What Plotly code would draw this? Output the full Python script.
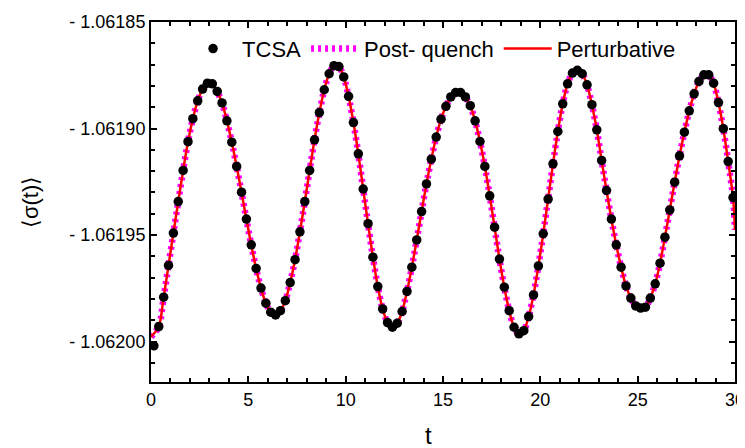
import plotly.graph_objects as go

# time grid of the TCSA samples (evenly spaced)
t_tcsa = [round(0.15 + 0.25 * k, 2) for k in range(120)]

tcsa = [
    -1.0620020, -1.0619930, -1.0619792, -1.0619643, -1.0619491, -1.0619343, -1.0619197, -1.0619062,
    -1.0618954, -1.0618870, -1.0618815, -1.0618787, -1.0618790, -1.0618826, -1.0618880, -1.0618964,
    -1.0619064, -1.0619178, -1.0619299, -1.0619425, -1.0619546, -1.0619657, -1.0619749, -1.0619820,
    -1.0619862, -1.0619875, -1.0619855, -1.0619808, -1.0619723, -1.0619616, -1.0619485, -1.0619343,
    -1.0619197, -1.0619053, -1.0618925, -1.0618818, -1.0618743, -1.0618705, -1.0618709, -1.0618758,
    -1.0618849, -1.0618972, -1.0619119, -1.0619284, -1.0619447, -1.0619604, -1.0619742, -1.0619847,
    -1.0619911, -1.0619933, -1.0619914, -1.0619859, -1.0619765, -1.0619651, -1.0619523, -1.0619390,
    -1.0619260, -1.0619144, -1.0619040, -1.0618956, -1.0618896, -1.0618852, -1.0618831, -1.0618831,
    -1.0618852, -1.0618893, -1.0618964, -1.0619061, -1.0619178, -1.0619316, -1.0619463, -1.0619613,
    -1.0619745, -1.0619855, -1.0619933, -1.0619964, -1.0619949, -1.0619883, -1.0619781, -1.0619645,
    -1.0619494, -1.0619331, -1.0619166, -1.0619014, -1.0618884, -1.0618790, -1.0618740, -1.0618727,
    -1.0618743, -1.0618795, -1.0618888, -1.0619006, -1.0619150, -1.0619291, -1.0619425, -1.0619546,
    -1.0619651, -1.0619739, -1.0619796, -1.0619833, -1.0619843, -1.0619839, -1.0619796, -1.0619729,
    -1.0619632, -1.0619510, -1.0619382, -1.0619252, -1.0619128, -1.0619017, -1.0618917, -1.0618837,
    -1.0618779, -1.0618748, -1.0618748, -1.0618787, -1.0618878, -1.0619001, -1.0619155, -1.0619324,
]

# analytic curves (post-quench / perturbative) — nearly identical to TCSA
line_start = -1.0619978
line_end = -1.0619476
curve_t = [0.0] + t_tcsa[1:] + [30.0]
post_quench = [line_start] + tcsa[1:] + [line_end]
perturbative = [line_start] + tcsa[1:] + [line_end]

y_ticks = [-1.06185, -1.06190, -1.06195, -1.06200]
y_ticktext = ["- 1.06185", "- 1.06190", "- 1.06195", "- 1.06200"]

FONT = "Liberation Sans, Arial, sans-serif"

fig = go.Figure()
fig.add_trace(go.Scatter(
    x=curve_t, y=post_quench, mode="lines", name="Post- quench",
    line=dict(color="#FF00FF", width=6.5, dash="3px,4px", shape="spline", smoothing=0.8),
    legendrank=2,
))
fig.add_trace(go.Scatter(
    x=curve_t, y=perturbative, mode="lines", name="Perturbative",
    line=dict(color="#FF0000", width=2.5, shape="spline", smoothing=0.8),
    legendrank=3,
))
fig.add_trace(go.Scatter(
    x=t_tcsa, y=tcsa, mode="markers", name="TCSA",
    marker=dict(color="black", size=9.5),
    legendrank=1,
))

axis_common = dict(
    showgrid=False, zeroline=False, showline=True, linecolor="black", linewidth=2,
    mirror="ticks", ticks="inside", ticklen=6, tickwidth=1.5, tickcolor="black",
    tickfont=dict(family=FONT, size=18, color="black"), automargin=False,
    ticklabeloverflow="allow",
)

fig.update_xaxes(
    range=[0, 30], tickvals=[0, 5, 10, 15, 20, 25, 30],
    minor=dict(dtick=1, ticks="inside", ticklen=4, tickwidth=1.5, tickcolor="black"),
    **axis_common,
)
fig.update_yaxes(
    range=[-1.062019, -1.06185], tickvals=y_ticks, ticktext=y_ticktext,
    minor=dict(dtick=1e-5, tick0=-1.06185, ticks="inside", ticklen=4, tickwidth=1.5, tickcolor="black"),
    **axis_common,
)

# page body has an 8px margin, so the figure is sized/placed to compensate
fig.update_layout(
    width=737, height=440,
    margin=dict(l=143, r=10, t=14, b=66, autoexpand=False),
    plot_bgcolor="white", paper_bgcolor="white",
    font=dict(family=FONT, color="black"),
    showlegend=True,
    legend=dict(
        orientation="h", x=0.0566, y=0.9256, xanchor="left", yanchor="middle",
        bgcolor="rgba(0,0,0,0)", font=dict(family=FONT, size=22, color="black"),
        itemwidth=48,
    ),
    annotations=[
        dict(text="⟨σ(t)⟩", xref="paper", yref="paper", x=-0.207, y=0.5,
             textangle=-90, showarrow=False, xanchor="center", yanchor="middle",
             font=dict(family=FONT, size=22, color="black")),
        dict(text="t", xref="paper", yref="paper", x=0.475, y=-0.15,
             showarrow=False, xanchor="center", yanchor="middle",
             font=dict(family=FONT, size=24, color="black")),
    ],
)

fig.write_html("out.html")
